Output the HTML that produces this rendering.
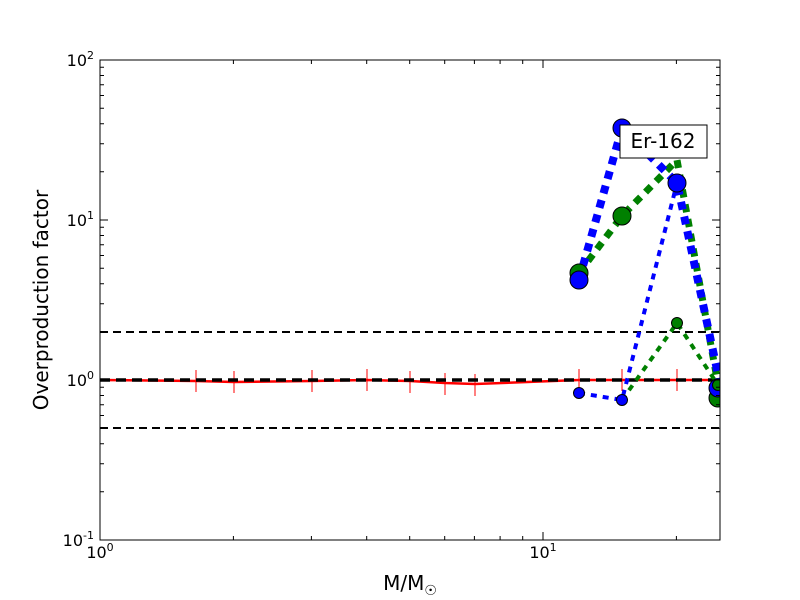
<!DOCTYPE html>
<html><head><style>body{margin:0;background:#fff}svg{display:block}text{font-family:"DejaVu Sans","Liberation Sans",sans-serif}</style></head><body>
<svg width="800" height="600" xmlns="http://www.w3.org/2000/svg">
<rect width="800" height="600" fill="#fff"/>
<defs><clipPath id="c"><rect x="100" y="60" width="620" height="480"/></clipPath></defs>
<g clip-path="url(#c)">
<line x1="100" y1="332" x2="720" y2="332" stroke="#000" stroke-width="2" stroke-dasharray="8,5"/>
<line x1="100" y1="428" x2="720" y2="428" stroke="#000" stroke-width="2" stroke-dasharray="8,5"/>
<polyline points="100,380 196,381 234,382 312,381 367,380 410,381 445,383 475,384 579,380 622,380 677,380 720,380" fill="none" stroke="#f00" stroke-width="2.5"/>
<g stroke="#f00" stroke-width="1">
<line x1="196" y1="370" x2="196" y2="392"/><line x1="234" y1="371" x2="234" y2="393"/><line x1="312" y1="370" x2="312" y2="392"/><line x1="367" y1="369" x2="367" y2="391"/><line x1="410" y1="371" x2="410" y2="393"/><line x1="445" y1="373" x2="445" y2="395"/><line x1="475" y1="374" x2="475" y2="396"/><line x1="579" y1="369" x2="579" y2="391"/><line x1="622" y1="369" x2="622" y2="391"/><line x1="677" y1="369" x2="677" y2="391"/>
</g>
<line x1="100" y1="380" x2="720" y2="380" stroke="#000" stroke-width="3.5" stroke-dasharray="10,6"/>
<polyline points="579,273 622,216 677,160 720,395" fill="none" stroke="#008000" stroke-width="7" stroke-dasharray="8,7"/>
<polyline points="579,280 622,128 677,183 715,360 720,385" fill="none" stroke="#00f" stroke-width="8" stroke-dasharray="8,7"/>
<polyline points="622,400 677,323 718,385" fill="none" stroke="#008000" stroke-width="4" stroke-dasharray="6,6"/>
<polyline points="579,393 622,400 677,183" fill="none" stroke="#00f" stroke-width="4" stroke-dasharray="6,6"/>
<g stroke="#000" stroke-width="1">
<circle cx="579" cy="273" r="9" fill="#008000"/><circle cx="622" cy="216" r="9" fill="#008000"/><circle cx="718" cy="398" r="9" fill="#008000"/>
<circle cx="579" cy="280" r="9" fill="#00f"/><circle cx="622" cy="128" r="9" fill="#00f"/><circle cx="677" cy="183" r="9" fill="#00f"/><circle cx="718" cy="388" r="9" fill="#00f"/>
<circle cx="677" cy="323" r="5.5" fill="#008000"/><circle cx="718" cy="385" r="5.5" fill="#008000"/>
<circle cx="579" cy="393" r="5.5" fill="#00f"/><circle cx="622" cy="400" r="5.5" fill="#00f"/>
</g>
</g>
<rect x="620" y="125" width="87" height="33" fill="#fff" stroke="#000" stroke-width="1"/>
<text x="663" y="148" font-size="20" text-anchor="middle">Er-162</text>
<rect x="100" y="60" width="620" height="480" fill="none" stroke="#000" stroke-width="1"/>
<g stroke="#000" stroke-width="1">
<path d="M100,540v-8M543,540v-8M100,60v8M543,60v8
M233.4,540v-4M311.4,540v-4M366.7,540v-4M409.7,540v-4M444.7,540v-4M474.4,540v-4M500.1,540v-4M522.7,540v-4M676.4,540v-4
M233.4,60v4M311.4,60v4M366.7,60v4M409.7,60v4M444.7,60v4M474.4,60v4M500.1,60v4M522.7,60v4M676.4,60v4
M100,60h8M100,220h8M100,380h8M100,540h8M720,60h-8M720,220h-8M720,380h-8M720,540h-8"/>
<path d="M100,491.8h4M100,463.7h4M100,443.7h4M100,428.2h4M100,415.5h4M100,404.8h4M100,395.5h4M100,387.3h4
M100,331.8h4M100,303.7h4M100,283.7h4M100,268.2h4M100,255.5h4M100,244.8h4M100,235.5h4M100,227.3h4
M100,171.8h4M100,143.7h4M100,123.7h4M100,108.2h4M100,95.5h4M100,84.8h4M100,75.5h4M100,67.3h4
M720,491.8h-4M720,463.7h-4M720,443.7h-4M720,428.2h-4M720,415.5h-4M720,404.8h-4M720,395.5h-4M720,387.3h-4
M720,331.8h-4M720,303.7h-4M720,283.7h-4M720,268.2h-4M720,255.5h-4M720,244.8h-4M720,235.5h-4M720,227.3h-4
M720,171.8h-4M720,143.7h-4M720,123.7h-4M720,108.2h-4M720,95.5h-4M720,84.8h-4M720,75.5h-4M720,67.3h-4"/>
</g>
<g font-size="16">
<text x="100" y="558" text-anchor="middle">10<tspan font-size="11" dy="-7">0</tspan></text>
<text x="543" y="558" text-anchor="middle">10<tspan font-size="11" dy="-7">1</tspan></text>
<text x="94" y="66" text-anchor="end">10<tspan font-size="11" dy="-7">2</tspan></text>
<text x="94" y="226" text-anchor="end">10<tspan font-size="11" dy="-7">1</tspan></text>
<text x="94" y="386" text-anchor="end">10<tspan font-size="11" dy="-7">0</tspan></text>
<text x="94" y="546" text-anchor="end">10<tspan font-size="11" dy="-7">-1</tspan></text>
</g>
<text x="410" y="590" font-size="20" text-anchor="middle">M/M<tspan font-size="14" dy="5">☉</tspan></text>
<text transform="translate(48,300) rotate(-90)" font-size="20" text-anchor="middle">Overproduction factor</text>
</svg>
</body></html>
